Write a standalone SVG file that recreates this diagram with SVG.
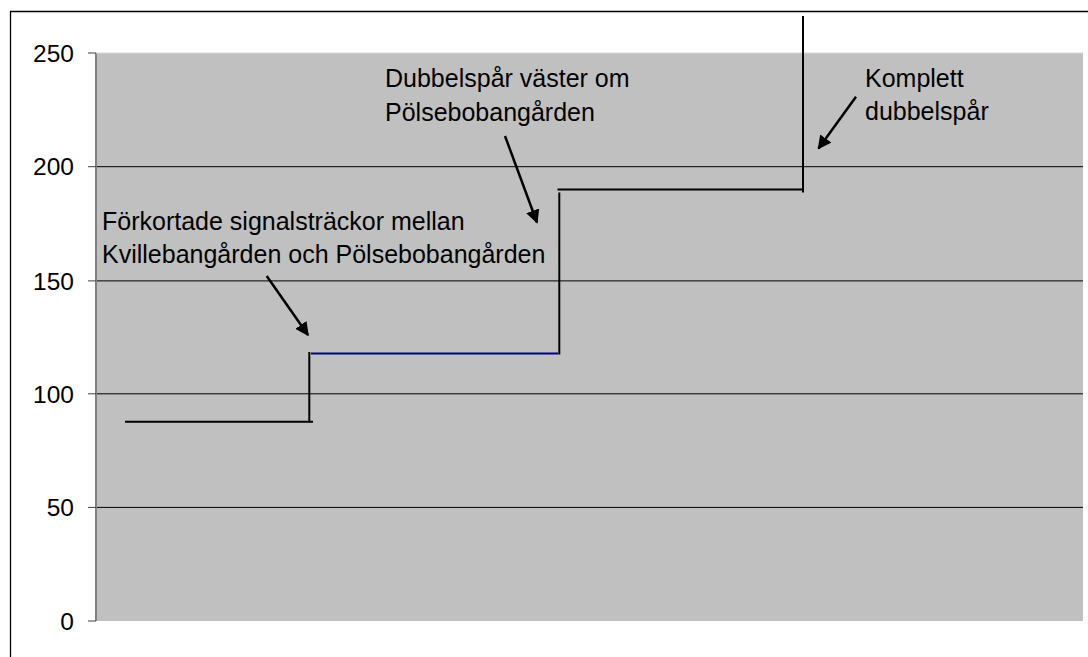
<svg xmlns="http://www.w3.org/2000/svg" width="1088" height="657" viewBox="0 0 1088 657">
<defs>
<style>
text{font-family:"Liberation Sans",Arial,sans-serif;fill:#000}
.tick{font-size:24.5px;text-anchor:end}
.ann{font-size:25px}
.grid{stroke:#000;stroke-width:1}
.step{stroke:#000;stroke-width:2;fill:none}
.arrow{stroke:#000;stroke-width:2.5;fill:none;marker-end:url(#ah)}
</style>
<marker id="ah" viewBox="0 0 10 10" refX="9" refY="5" markerWidth="5.5" markerHeight="5.5" orient="auto" markerUnits="strokeWidth">
<path d="M0,0 L10,5 L0,10 Z" fill="#000"/>
</marker>
</defs>
<rect x="0" y="0" width="1088" height="657" fill="#fff"/>
<path d="M10.5,660 V11.5 H1090" fill="none" stroke="#000" stroke-width="1.3"/>
<g id="plot">
<rect x="96" y="53" width="987" height="568" fill="#c0c0c0"/>
<g id="gridlines">
<line class="grid" x1="96" y1="166.7" x2="1083" y2="166.7"/>
<line class="grid" x1="96" y1="280.9" x2="1083" y2="280.9"/>
<line class="grid" x1="96" y1="393.8" x2="1083" y2="393.8"/>
<line class="grid" x1="96" y1="507.4" x2="1083" y2="507.4"/>
</g>
<line x1="96" y1="53" x2="96" y2="621" stroke="#808080" stroke-width="2"/>
<line x1="96" y1="53" x2="1083" y2="53" stroke="#d8d8d8" stroke-width="1"/>
<g id="ticks" stroke="#404040" stroke-width="1">
<line x1="88" y1="53" x2="96" y2="53"/>
<line x1="88" y1="166.7" x2="96" y2="166.7"/>
<line x1="88" y1="280.9" x2="96" y2="280.9"/>
<line x1="88" y1="393.8" x2="96" y2="393.8"/>
<line x1="88" y1="507.4" x2="96" y2="507.4"/>
<line x1="88" y1="621" x2="96" y2="621"/>
</g>
</g>
<g id="axis-labels">
<text class="tick" x="74" y="62">250</text>
<text class="tick" x="74" y="175.4">200</text>
<text class="tick" x="74" y="289.6">150</text>
<text class="tick" x="74" y="402.5">100</text>
<text class="tick" x="74" y="516.1">50</text>
<text class="tick" x="74" y="629.7">0</text>
</g>
<g id="series">
<line class="step" x1="125" y1="421.7" x2="313" y2="421.7"/>
<line class="step" x1="309.3" y1="422.5" x2="309.3" y2="352"/>
<line x1="311" y1="353.5" x2="558" y2="353.5" stroke="#000080" stroke-width="2"/>
<line class="step" x1="559.3" y1="354.5" x2="559.3" y2="192.5"/>
<line class="step" x1="557.5" y1="189.5" x2="804" y2="189.5"/>
<line class="step" x1="803" y1="16" x2="803" y2="192.5"/>
</g>
<g id="label-forkortade">
<text class="ann" x="102" y="230">Förkortade signalsträckor mellan</text>
<text class="ann" x="102" y="263">Kvillebangården och Pölsebobangården</text>
</g>
<g id="label-dubbelspar-vaster">
<text class="ann" x="385" y="86.5">Dubbelspår väster om</text>
<text class="ann" x="385" y="120.5">Pölsebobangården</text>
</g>
<g id="label-komplett">
<text class="ann" x="865" y="86.5">Komplett</text>
<text class="ann" x="865" y="120">dubbelspår</text>
</g>
<g id="connectors">
<line class="arrow" x1="266.7" y1="276" x2="308" y2="335"/>
<line class="arrow" x1="505" y1="136" x2="537" y2="222.5"/>
<line class="arrow" x1="856" y1="96.7" x2="818.5" y2="148.5"/>
</g>
</svg>
